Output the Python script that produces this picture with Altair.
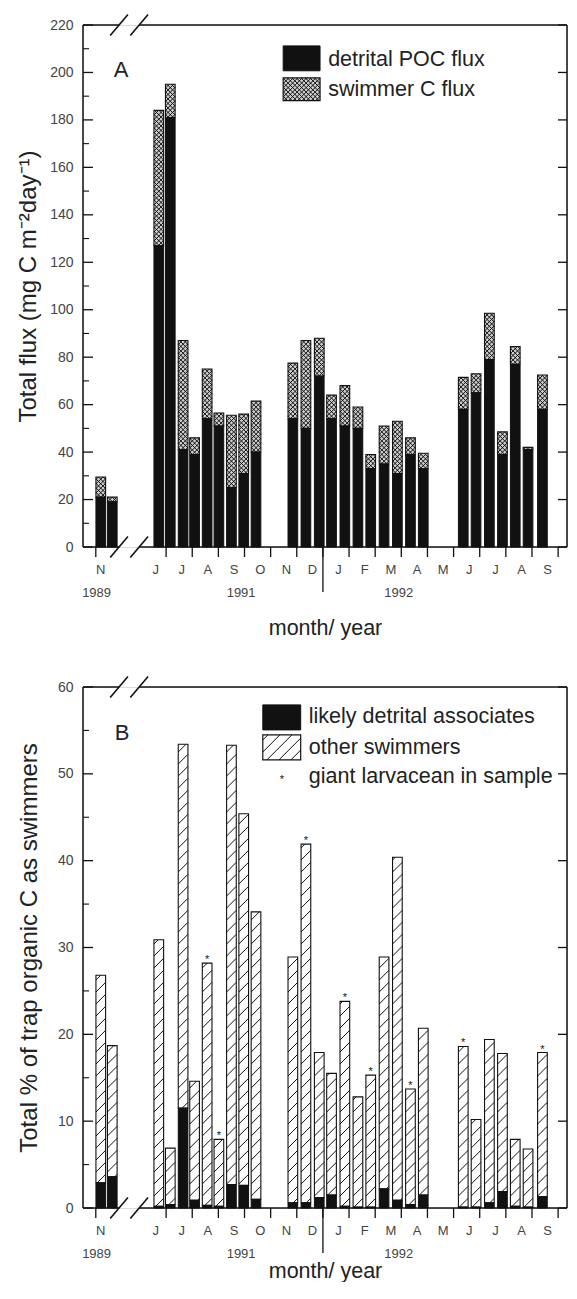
import altair as alt
import numpy as np
import pandas as pd

# ---------------- values ----------------
# sample mid-points on the broken time axis, in months after 1 June 1991;
# the two Nov-1989 samples sit in the separate section left of the axis break
SAMPLE_POS_1989 = [-1.50, -1.06]
SAMPLE_POS_1991_92 = [0.72, 1.16, 1.65, 2.09, 2.57, 3.02, 3.50, 3.97, 4.44,
                      5.85, 6.35, 6.86, 7.33, 7.84, 8.34, 8.83, 9.34, 9.85, 10.35, 10.84,
                      12.37, 12.86, 13.37, 13.87, 14.36, 14.85, 15.40]

# panel A (mg C m-2 day-1)
DETRITAL_POC_FLUX = [21, 19,
                     127, 181, 41, 39, 54, 51, 25, 31, 40,
                     54, 50, 72, 54, 51, 50, 33, 35, 31, 39, 33,
                     58, 65, 79, 39, 77, 41, 58]
TOTAL_FLUX = [29.5, 21,
              184, 195, 87, 46, 75, 56.5, 55.5, 56, 61.5,
              77.5, 87, 88, 64, 68, 59, 39, 51, 53, 46, 39.5,
              71.5, 73, 98.5, 48.5, 84.5, 42, 72.5]

# panel B (% of trap organic C)
PCT_SWIMMERS_TOTAL = [26.8, 18.7,
                      30.9, 6.9, 53.4, 14.6, 28.2, 7.9, 53.3, 45.4, 34.1,
                      28.9, 41.9, 17.9, 15.5, 23.8, 12.8, 15.3, 28.9, 40.4, 13.7, 20.7,
                      18.6, 10.2, 19.4, 17.8, 7.9, 6.8, 17.9]
PCT_DETRITAL_ASSOC = [2.9, 3.6,
                      0.2, 0.4, 11.5, 0.9, 0.3, 0.2, 2.7, 2.6, 1.0,
                      0.6, 0.6, 1.2, 1.5, 0.2, 0.1, 0.1, 2.2, 0.9, 0.4, 1.5,
                      0.1, 0.1, 0.6, 1.9, 0.2, 0.1, 1.3]
GIANT_LARVACEAN = [0, 0,
                   0, 0, 0, 0, 1, 1, 0, 0, 0,
                   0, 1, 0, 0, 1, 0, 1, 0, 0, 1, 0,
                   1, 0, 0, 0, 0, 0, 1]

MONTH_LABELS = ["N", "J", "J", "A", "S", "O", "N", "D", "J", "F", "M", "A", "M", "J", "J", "A", "S"]
MONTH_LABEL_POS = [-1.50] + [k + 0.6 for k in range(16)]
MONTH_TICK_POS = [-1.69] + list(range(1, 17))
YEAR_TICK_POS = [7]
YEAR_LABELS = ["1989", "1991", "1992"]
YEAR_LABEL_POS = [-1.66, 3.87, 9.90]
BREAK_POS = [-0.80, -0.03]

# ---------------- layout / style ----------------
XDOM = [-2.18, 16.34]
PXM = 26.13
W = round((XDOM[1] - XDOM[0]) * PXM)
HALF = 0.185
FONT = "Liberation Sans"
INK = "#111111"
LABEL_GRAY = "#444444"

POS = SAMPLE_POS_1989 + SAMPLE_POS_1991_92


def hatch(rects, pyu, spacing, slope=1.0, both=False):
    rows = []
    for x0, x1, y0, y1 in rects:
        wp = (x1 - x0) * PXM
        hp = (y1 - y0) * pyu
        if hp < 1.0:
            continue
        y0p = y0 * pyu
        for mirror in ([False, True] if both else [False]):
            kmin = int(np.ceil((y0p - slope * wp) / spacing))
            kmax = int(np.floor((y0p + hp) / spacing))
            for k in range(kmin, kmax + 1):
                c = k * spacing - y0p
                xa = max(0.0, -c / slope)
                xb = min(wp, (hp - c) / slope)
                if xb - xa < 0.6:
                    continue
                ya = c + slope * xa
                yb = c + slope * xb
                if mirror:
                    rows.append(dict(xa=x1 - xa / PXM, xb=x1 - xb / PXM,
                                     ya=y0 + ya / pyu, yb=y0 + yb / pyu))
                else:
                    rows.append(dict(xa=x0 + xa / PXM, xb=x0 + xb / PXM,
                                     ya=y0 + ya / pyu, yb=y0 + yb / pyu))
    return pd.DataFrame(rows, columns=["xa", "xb", "ya", "yb"])


def panel(H, ydom, lower, upper, yvalues, yminor, ytitle, ytitle_pad, xtitle_pad,
          letter, letter_xy, legend, hatch_cfg, upper_fill, flags=None):
    pyu = H / (ydom[1] - ydom[0])
    xscale = alt.Scale(domain=XDOM, nice=False, zero=False)
    yscale = alt.Scale(domain=ydom, nice=False, zero=False)
    xaxis = alt.Axis(title="month/ year", labels=False, ticks=False, tickSize=0,
                     domain=False, grid=False, titleFont=FONT, titleFontSize=21.5,
                     titleFontWeight="normal", titleColor="#222222",
                     titlePadding=xtitle_pad)
    yaxis = alt.Axis(values=yvalues, ticks=False, tickSize=0, domain=False, grid=False,
                     labelFont=FONT, labelFontSize=14, labelColor=LABEL_GRAY,
                     labelPadding=10, title=ytitle, titleFont=FONT, titleFontSize=24,
                     titleFontWeight="normal", titleColor="#222222",
                     titlePadding=ytitle_pad)

    def X(f):
        return alt.X(f"{f}:Q", scale=xscale, axis=xaxis)

    def Y(f):
        return alt.Y(f"{f}:Q", scale=yscale, axis=yaxis)

    one = pd.DataFrame({"a": [0]})
    bars = pd.DataFrame({
        "xs": [p - HALF for p in POS], "xe": [p + HALF for p in POS],
        "zero": [0.0] * len(POS), "low": lower, "up": upper,
        "flag": flags if flags is not None else [0] * len(POS), "pos": POS,
    })
    layers = []

    # upper (patterned) part
    layers.append(alt.Chart(bars).mark_rect(fill=upper_fill, strokeWidth=0).encode(
        x=X("xs"), x2=alt.X2("xe"), y=Y("low"), y2=alt.Y2("up")))
    rects = list(zip(bars["xs"], bars["xe"], bars["low"], bars["up"]))
    sp, sw, both = hatch_cfg
    hdf = hatch(rects, pyu, sp, both=both)
    layers.append(alt.Chart(hdf).mark_rule(color=INK, strokeWidth=sw).encode(
        x=X("xa"), x2=alt.X2("xb"), y=Y("ya"), y2=alt.Y2("yb")))
    layers.append(alt.Chart(bars).mark_rect(fillOpacity=0, stroke=INK, strokeWidth=1.1).encode(
        x=X("xs"), x2=alt.X2("xe"), y=Y("low"), y2=alt.Y2("up")))
    layers.append(alt.Chart(bars).mark_rect(fill=INK, stroke=INK, strokeWidth=1).encode(
        x=X("xs"), x2=alt.X2("xe"), y=Y("zero"), y2=alt.Y2("low")))

    # frame
    layers.append(alt.Chart(one).mark_rule(color=INK, strokeWidth=1.5).encode(
        x=alt.value(0), y=alt.value(0), y2=alt.value(H)))
    layers.append(alt.Chart(one).mark_rule(color=INK, strokeWidth=1.5).encode(
        x=alt.value(W), y=alt.value(0), y2=alt.value(H)))
    seg = pd.DataFrame({"s": [XDOM[0], BREAK_POS[1]], "e": [BREAK_POS[0], XDOM[1]]})
    for yv in (0, H):
        layers.append(alt.Chart(seg).mark_rule(color=INK, strokeWidth=1.5).encode(
            x=X("s"), x2=alt.X2("e"), y=alt.value(yv)))
    # break slashes
    sl = pd.DataFrame({"a": [b - 0.34 for b in BREAK_POS], "b": [b + 0.34 for b in BREAK_POS]})
    for yv in (0, H):
        layers.append(alt.Chart(sl).mark_rule(color=INK, strokeWidth=1.6).encode(
            x=X("a"), x2=alt.X2("b"), y=alt.value(yv + 10.5), y2=alt.value(yv - 10.5)))

    # y ticks (inward)
    ymaj = pd.DataFrame({"v": yvalues})
    ymin = pd.DataFrame({"v": yminor})
    layers.append(alt.Chart(ymaj).mark_rule(color=INK, strokeWidth=1.3).encode(
        y=Y("v"), x=alt.value(0), x2=alt.value(10)))
    layers.append(alt.Chart(ymin).mark_rule(color=INK, strokeWidth=1.1).encode(
        y=Y("v"), x=alt.value(0), x2=alt.value(6)))
    layers.append(alt.Chart(ymaj).mark_rule(color=INK, strokeWidth=1.3).encode(
        y=Y("v"), x=alt.value(W - 9), x2=alt.value(W)))

    # x ticks and labels
    layers.append(alt.Chart(pd.DataFrame({"t": MONTH_TICK_POS})).mark_rule(
        color=INK, strokeWidth=1.3).encode(x=X("t"), y=alt.value(H), y2=alt.value(H + 10)))
    layers.append(alt.Chart(pd.DataFrame({"t": YEAR_TICK_POS})).mark_rule(
        color=INK, strokeWidth=1.3).encode(x=X("t"), y=alt.value(H), y2=alt.value(H + 45)))
    layers.append(alt.Chart(pd.DataFrame({"p": MONTH_LABEL_POS, "l": MONTH_LABELS})).mark_text(
        font=FONT, fontSize=13, color=LABEL_GRAY, baseline="middle", align="center").encode(
        x=X("p"), y=alt.value(H + 23), text="l:N"))
    layers.append(alt.Chart(pd.DataFrame({"p": YEAR_LABEL_POS, "l": YEAR_LABELS})).mark_text(
        font=FONT, fontSize=13, color=LABEL_GRAY, baseline="middle", align="center").encode(
        x=X("p"), y=alt.value(H + 46), text="l:N"))

    # panel letter
    layers.append(alt.Chart(pd.DataFrame({"x": [letter_xy[0]], "y": [letter_xy[1]], "l": [letter]}))
                  .mark_text(font=FONT, fontSize=22, color="#222222", baseline="middle", align="center")
                  .encode(x=X("x"), y=Y("y"), text="l:N"))

    # legend
    lx0, lx1, black_y, pat_y, tx, texts, star = legend
    layers.append(alt.Chart(pd.DataFrame({"a": [lx0], "b": [lx1], "c": [black_y[0]], "d": [black_y[1]]}))
                  .mark_rect(fill=INK, stroke=INK).encode(x=X("a"), x2=alt.X2("b"), y=Y("c"), y2=alt.Y2("d")))
    layers.append(alt.Chart(pd.DataFrame({"a": [lx0], "b": [lx1], "c": [pat_y[0]], "d": [pat_y[1]]}))
                  .mark_rect(fill=upper_fill, strokeWidth=0).encode(x=X("a"), x2=alt.X2("b"), y=Y("c"), y2=alt.Y2("d")))
    ldf = hatch([(lx0, lx1, pat_y[0], pat_y[1])], pyu, sp, both=both)
    layers.append(alt.Chart(ldf).mark_rule(color=INK, strokeWidth=sw).encode(
        x=X("xa"), x2=alt.X2("xb"), y=Y("ya"), y2=alt.Y2("yb")))
    layers.append(alt.Chart(pd.DataFrame({"a": [lx0], "b": [lx1], "c": [pat_y[0]], "d": [pat_y[1]]}))
                  .mark_rect(fillOpacity=0, stroke=INK, strokeWidth=1.2).encode(x=X("a"), x2=alt.X2("b"), y=Y("c"), y2=alt.Y2("d")))
    layers.append(alt.Chart(pd.DataFrame({"x": [tx] * len(texts), "y": [t[1] for t in texts],
                                          "l": [t[0] for t in texts]}))
                  .mark_text(font=FONT, fontSize=21.5, color="#222222", baseline="middle", align="left")
                  .encode(x=X("x"), y=Y("y"), text="l:N"))
    if star is not None:
        layers.append(alt.Chart(pd.DataFrame({"x": [star[0]], "y": [star[1]], "l": ["*"]}))
                      .mark_text(font=FONT, fontSize=11, color=INK, baseline="middle", align="center", dy=3)
                      .encode(x=X("x"), y=Y("y"), text="l:N"))

    if flags is not None:
        fl = bars[bars["flag"] == 1]
        layers.append(alt.Chart(fl).mark_text(font=FONT, fontSize=11, color=INK,
                                             baseline="alphabetic", align="center").encode(
            x=X("pos"), y=Y("up"), text=alt.value("*")))

    return alt.layer(*layers).properties(width=W, height=H)


panel_a = panel(
    H=522, ydom=[0, 220], lower=DETRITAL_POC_FLUX, upper=TOTAL_FLUX,
    yvalues=list(range(0, 221, 20)), yminor=list(range(10, 220, 20)),
    ytitle="Total flux (mg C m\u207b\u00b2day\u207b\u00b9)", ytitle_pad=9, xtitle_pad=70,
    letter="A", letter_xy=(-0.72, 201),
    legend=(5.48, 6.89, (200.7, 211.2), (188.1, 197.7), 7.2,
            [("detrital POC flux", 205.3), ("swimmer C flux", 192.7)], None),
    hatch_cfg=(4.5, 1.0, True), upper_fill="#cdcdcd",
)

panel_b = panel(
    H=521, ydom=[0, 60], lower=PCT_DETRITAL_ASSOC, upper=PCT_SWIMMERS_TOTAL,
    yvalues=list(range(0, 61, 10)), yminor=list(range(5, 60, 10)),
    ytitle="Total % of trap organic C as swimmers", ytitle_pad=16, xtitle_pad=52,
    letter="B", letter_xy=(-0.68, 54.7),
    legend=(4.70, 6.15, (55.06, 57.94), (51.6, 54.48), 6.46,
            [("likely detrital associates", 56.5), ("other swimmers", 53.0),
             ("giant larvacean in sample", 49.6)], (5.43, 49.6)),
    hatch_cfg=(12.0, 1.0, False), upper_fill="#ffffff", flags=GIANT_LARVACEAN,
)

chart = alt.vconcat(panel_a, panel_b, spacing=36).properties(
    padding={"left": 8, "top": 5, "right": 0, "bottom": 0}
).configure_view(stroke=None).configure(font=FONT, background="white")

chart.save("out.html", embed_options={"renderer": "svg", "actions": False})
